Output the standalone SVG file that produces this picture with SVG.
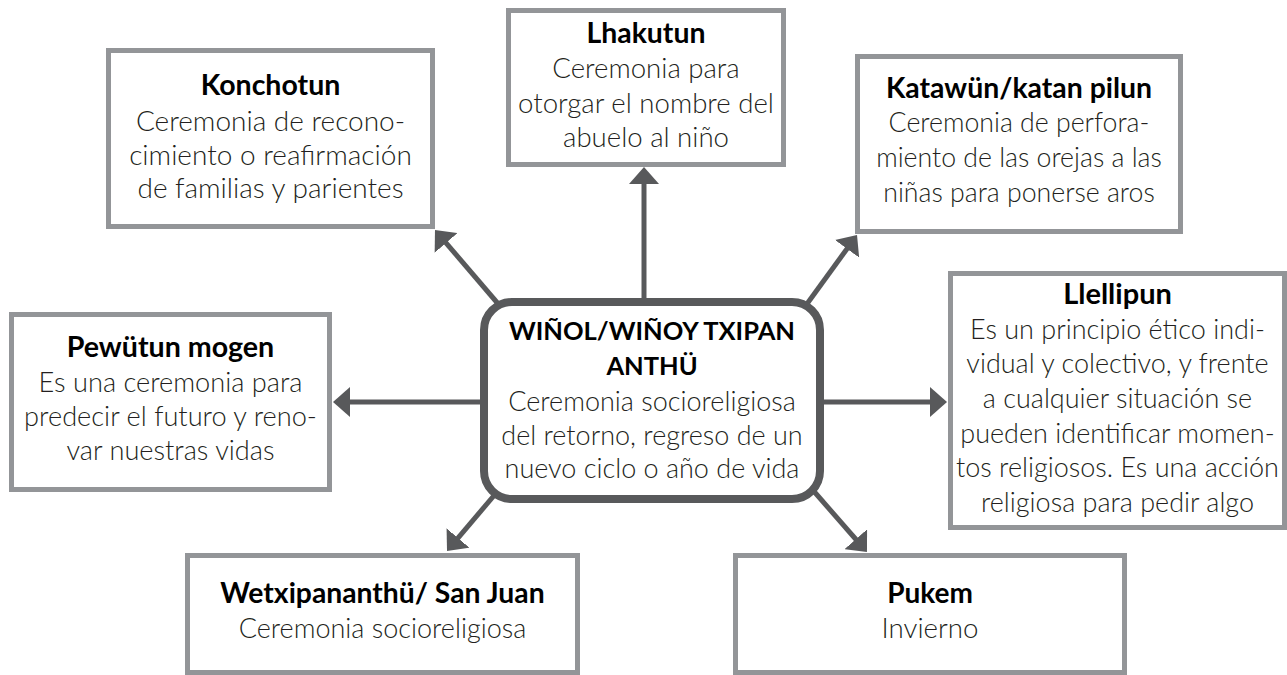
<svg xmlns="http://www.w3.org/2000/svg" width="1287" height="675" viewBox="0 0 1287 675">
  <defs>
    <style>
      .box { fill: #ffffff; stroke: #939598; stroke-width: 5; }
      .hub { fill: #ffffff; stroke: #58595b; stroke-width: 8; }
      .link { fill: none; stroke: #58595b; stroke-width: 5; marker-end: url(#head); }
      text { font-family: Lato, "Open Sans", "Liberation Sans", sans-serif; text-anchor: middle; fill: #231f20; }
      .h { font-weight: 700; fill: #000000; }
      .b { font-weight: 300; }
    </style>
    <marker id="head" viewBox="0 0 17 30" refX="9" refY="15" markerWidth="17" markerHeight="30" markerUnits="userSpaceOnUse" orient="auto">
      <path d="M0,0 L17,15 L0,30 Z" fill="#58595b"/>
    </marker>
  </defs>
  <rect width="1287" height="675" fill="#ffffff"/>

  <!-- connectors from the hub to each ceremony -->
  <g id="connectors">
    <line class="link" x1="644" y1="300" x2="644" y2="175"/>
    <line class="link" x1="484" y1="402" x2="341" y2="402"/>
    <line class="link" x1="820" y1="402" x2="939" y2="402"/>
    <line class="link" x1="500" y1="306" x2="440.2" y2="236.1"/>
    <line class="link" x1="804" y1="308" x2="852.3" y2="241.5"/>
    <line class="link" x1="497" y1="492" x2="452.2" y2="544.9"/>
    <line class="link" x1="811" y1="488" x2="861.7" y2="546"/>
  </g>

  <g id="hub">
    <rect class="hub" x="484" y="302" width="336" height="197" rx="28"/>
    <text class="h" x="652" y="340" font-size="25.5">WIÑOL/WIÑOY TXIPAN</text>
    <text class="h" x="652" y="375" font-size="25.5">ANTHÜ</text>
    <text class="b" x="652" y="411" font-size="27">Ceremonia socioreligiosa</text>
    <text class="b" x="652" y="444.5" font-size="27">del retorno, regreso de un</text>
    <text class="b" x="652" y="478" font-size="27">nuevo ciclo o año de vida</text>
  </g>

  <g id="konchotun">
    <rect class="box" x="108.5" y="50.5" width="324" height="176"/>
    <text class="h" x="270.5" y="95" font-size="28.5">Konchotun</text>
    <text class="b" x="270.5" y="131" font-size="28">Ceremonia de recono-</text>
    <text class="b" x="270.5" y="164.5" font-size="28">cimiento o reafirmación</text>
    <text class="b" x="270.5" y="198" font-size="28">de familias y parientes</text>
  </g>

  <g id="lhakutun">
    <rect class="box" x="508.5" y="10.5" width="275" height="154"/>
    <text class="h" x="646" y="43" font-size="28.4">Lhakutun</text>
    <text class="b" x="646" y="78" font-size="27.6">Ceremonia para</text>
    <text class="b" x="646" y="113" font-size="27.6">otorgar el nombre del</text>
    <text class="b" x="646" y="147" font-size="27.6">abuelo al niño</text>
  </g>

  <g id="katawun">
    <rect class="box" x="857.5" y="56.5" width="323" height="175"/>
    <text class="h" x="1019" y="98" font-size="28.4">Katawün/katan pilun</text>
    <text class="b" x="1019" y="132" font-size="26.7">Ceremonia de perfora-</text>
    <text class="b" x="1019" y="167" font-size="26.7">miento de las orejas a las</text>
    <text class="b" x="1019" y="202" font-size="26.7">niñas para ponerse aros</text>
  </g>

  <g id="pewutun">
    <rect class="box" x="11.5" y="314.5" width="318" height="175"/>
    <text class="h" x="170.5" y="357" font-size="28.6">Pewütun mogen</text>
    <text class="b" x="170.5" y="392" font-size="27.2">Es una ceremonia para</text>
    <text class="b" x="170.5" y="426" font-size="27.2">predecir el futuro y reno-</text>
    <text class="b" x="170.5" y="460" font-size="27.2">var nuestras vidas</text>
  </g>

  <g id="llellipun">
    <rect class="box" x="950.5" y="273.5" width="334" height="254"/>
    <text class="h" x="1117.5" y="303.5" font-size="29">Llellipun</text>
    <text class="b" x="1117.5" y="338.5" font-size="27">Es un principio ético indi-</text>
    <text class="b" x="1117.5" y="373" font-size="27">vidual y colectivo, y frente</text>
    <text class="b" x="1117.5" y="408" font-size="27">a cualquier situación se</text>
    <text class="b" x="1117.5" y="442.5" font-size="27">pueden identificar momen-</text>
    <text class="b" x="1117.5" y="477" font-size="27">tos religiosos. Es una acción</text>
    <text class="b" x="1117.5" y="512" font-size="27">religiosa para pedir algo</text>
  </g>

  <g id="wetxipananthu">
    <rect class="box" x="187.5" y="555.5" width="390" height="117"/>
    <text class="h" x="382.5" y="603" font-size="28.3">Wetxipananthü/ San Juan</text>
    <text class="b" x="382.5" y="638" font-size="27">Ceremonia socioreligiosa</text>
  </g>

  <g id="pukem">
    <rect class="box" x="735.5" y="555.5" width="389" height="117"/>
    <text class="h" x="930" y="603" font-size="28">Pukem</text>
    <text class="b" x="930" y="638" font-size="27.7">Invierno</text>
  </g>
</svg>
